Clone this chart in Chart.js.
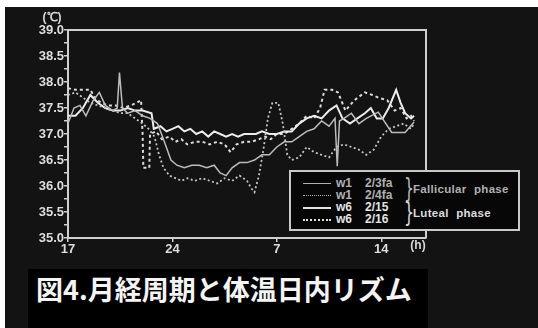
<!DOCTYPE html>
<html lang="ja">
<head>
<meta charset="utf-8">
<title>月経周期と体温日内リズム</title>
<script src="https://cdn.jsdelivr.net/npm/chart.js@4.4.1/dist/chart.umd.min.js"></script>
<style>
  html, body { margin: 0; padding: 0; width: 538px; height: 328px; overflow: hidden; background: #ffffff; }
  #stage { position: absolute; left: 5px; top: 7px; right: 0; bottom: 0; background: #131313; }
  #chart { position: absolute; left: 0; top: 0; }
  #legendBox {
    position: absolute; left: 289px; top: 170px; width: 227px; height: 57px;
    border: 2px solid #c9c9c9; background: #070707; z-index: 2;
    font-family: "Liberation Sans", Arial, sans-serif; font-weight: bold; color: #bdbdbd;
  }
  .row { position: absolute; left: 0; width: 120px; height: 12px; font-size: 12px; line-height: 12px; white-space: nowrap; }
  .sample { position: absolute; left: 12px; width: 28px; top: 6px; height: 0; }
  .lab1 { position: absolute; left: 45px; top: 0; }
  .lab2 { position: absolute; left: 74px; top: 0; }
  .brace { position: absolute; left: 113px; font-family: "DejaVu Sans", sans-serif; font-weight: normal; font-size: 21px; line-height: 21px; transform: scale(0.75, 1.25); transform-origin: left center; color: #b8b8b8; }
  .phase { position: absolute; left: 122px; font-size: 11.5px; line-height: 12px; white-space: nowrap; letter-spacing: 0.3px; word-spacing: 4px; }
  #titleBox {
    position: absolute; left: 28px; top: 269px; width: 400px; height: 59px; background: #000000; z-index: 2;
  }
  #titleText {
    position: absolute; left: 8px; top: 5px; margin: 0;
    font-family: "Noto Sans CJK JP", sans-serif; font-weight: bold; font-size: 27px; line-height: 30px;
    color: #f4f4f4; white-space: nowrap;
  }
</style>
</head>
<body>
<div id="stage"></div>
<canvas id="chart" width="538" height="328"></canvas>

<div id="legendBox">
  <div class="row" style="top:5px;color:#b0b0b0"><div class="sample" style="border-top:1.5px solid #b0b0b0"></div><span class="lab1">w1</span><span class="lab2">2/3fa</span></div>
  <div class="row" style="top:17px;color:#b0b0b0"><div class="sample" style="border-top:1.5px dotted #b0b0b0"></div><span class="lab1">w1</span><span class="lab2">2/4fa</span></div>
  <div class="row" style="top:29px;color:#e2e2e2"><div class="sample" style="border-top:2px solid #e2e2e2"></div><span class="lab1">w6</span><span class="lab2">2/15</span></div>
  <div class="row" style="top:41px;color:#e2e2e2"><div class="sample" style="border-top:2px dotted #e2e2e2"></div><span class="lab1">w6</span><span class="lab2">2/16</span></div>
  <div class="brace" style="top:6px">}</div>
  <div class="brace" style="top:30px;color:#d8d8d8">}</div>
  <div class="phase" style="top:11px;color:#b0b0b0">Fallicular phase</div>
  <div class="phase" style="top:35px;color:#dcdcdc">Luteal phase</div>
</div>

<div id="titleBox"><p id="titleText">図4.月経周期と体温日内リズム</p></div>

<script>
// Hours elapsed since 17:00; one array of hours and one of temperatures per record.
const hoursW1a = [0, 0.4, 0.8, 1.2, 1.7, 2.1, 2.5, 3.0, 3.3, 3.45, 3.65, 4.0, 4.5, 5.0, 5.5, 6.0, 6.4, 6.9, 7.3, 7.8,
  8.3, 8.8, 9.3, 9.8, 10.2, 10.6, 11.0, 11.5, 12.0, 12.5, 13.0, 13.5, 14.0, 14.5, 15.0, 15.5, 16.0, 16.5, 17.0, 17.5,
  17.9, 18.05, 18.2, 18.5, 19.0, 19.5, 20.0, 20.8, 21.7, 22.6, 23.2];
const tempW1a = [37.2, 37.5, 37.55, 37.35, 37.65, 37.8, 37.55, 37.45, 37.5, 38.18, 37.5, 37.4, 37.45, 37.35, 37.3, 37.2, 36.9, 36.5, 36.4, 36.35,
  36.4, 36.4, 36.35, 36.4, 36.25, 36.2, 36.35, 36.45, 36.45, 36.5, 36.6, 36.6, 36.75, 36.85, 36.85, 36.95, 37.05, 37.1, 37.25, 37.15,
  37.3, 36.38, 37.25, 37.3, 37.4, 37.2, 37.3, 37.42, 37.03, 37.03, 37.23];

const hoursW1b = [0, 0.5, 1.0, 1.5, 2.0, 2.5, 3.0, 3.5, 4.0, 4.5, 5.0, 5.4, 5.8, 6.1, 6.4, 6.8, 7.2, 7.6, 8.0, 8.5,
  9.0, 9.5, 10.0, 10.5, 11.0, 11.5, 12.0, 12.3, 12.5, 12.8, 13.1, 13.4, 13.7, 14.1, 14.4, 14.7, 15.0, 15.5, 16.0, 16.5,
  17.0, 17.5, 18.0, 18.5, 19.0, 19.5, 20.0, 20.5, 21.0, 21.5, 22.0, 22.5, 23.0, 23.2];
const tempW1b = [37.75, 37.8, 37.7, 37.6, 37.55, 37.5, 37.45, 37.4, 37.4, 37.3, 37.2, 37.1, 36.95, 36.6, 36.35, 36.2, 36.15, 36.1, 36.15, 36.1,
  36.15, 36.1, 36.05, 36.15, 36.1, 36.2, 36.1, 35.95, 35.88, 36.2, 36.7, 37.3, 37.6, 37.6, 37.2, 36.6, 36.5, 36.55, 36.75, 36.65,
  36.6, 36.55, 36.75, 36.8, 36.75, 36.7, 36.6, 36.7, 36.95, 37.1, 37.15, 37.2, 37.1, 37.2];

const hoursW6a = [0, 0.5, 1.0, 1.5, 2.0, 2.5, 3.0, 3.5, 4.0, 4.5, 5.0, 5.6, 5.75, 6.2, 6.6, 7.0, 7.4, 7.8, 8.2, 8.6,
  9.0, 9.4, 9.8, 10.2, 10.6, 11.0, 11.4, 11.8, 12.2, 12.6, 13.0, 13.5, 14.0, 14.5, 15.0, 15.5, 16.0, 16.5, 17.0, 17.5,
  18.0, 18.4, 18.9, 19.4, 19.9, 20.3, 20.7, 21.1, 21.5, 22.0, 22.3, 22.6, 23.0, 23.2];
const tempW6a = [37.35, 37.35, 37.5, 37.75, 37.6, 37.5, 37.45, 37.45, 37.5, 37.45, 37.45, 37.4, 37.1, 37.15, 37.05, 37.1, 37.15, 37.05, 37.1, 37.0,
  37.05, 36.95, 37.05, 37.0, 36.95, 37.0, 36.95, 37.0, 37.0, 37.0, 37.05, 37.0, 37.0, 37.05, 37.05, 37.2, 37.3, 37.35, 37.3, 37.45,
  37.55, 37.3, 37.2, 37.3, 37.4, 37.5, 37.3, 37.3, 37.5, 37.85, 37.6, 37.4, 37.3, 37.35];

const hoursW6b = [0, 0.5, 1.0, 1.5, 1.8, 2.2, 2.7, 3.2, 3.7, 4.2, 4.6, 4.9, 5.0, 5.05, 5.45, 5.5, 5.9, 6.3, 6.8, 7.2,
  7.6, 8.0, 8.5, 9.0, 9.5, 10.0, 10.5, 10.9, 11.3, 11.8, 12.3, 12.8, 13.2, 13.6, 14.0, 14.5, 15.0, 15.5, 16.0, 16.5,
  16.9, 17.2, 17.7, 18.1, 18.6, 19.2, 19.9, 20.4, 20.8, 21.4, 21.9, 22.3, 22.7, 23.0, 23.2];
const tempW6b = [37.88, 37.85, 37.85, 37.85, 37.7, 37.6, 37.55, 37.55, 37.5, 37.55, 37.6, 37.65, 37.0, 36.35, 36.35, 37.0, 37.05, 36.9, 36.95, 36.85,
  36.9, 36.8, 36.85, 36.85, 36.8, 36.85, 36.8, 36.65, 36.8, 36.85, 36.85, 36.9, 36.95, 36.9, 37.0, 37.0, 37.1, 37.2, 37.35, 37.3,
  37.5, 37.85, 37.85, 37.8, 37.45, 37.65, 37.8, 37.75, 37.7, 37.65, 37.45, 37.5, 37.3, 37.35, 37.25];

// Axis ticks: hours since 17:00 that carry a clock label, and the temperature range.
const hourTicks = [0, 7, 14, 21];
const startClock = 17;
const tempMin = 35.0, tempMax = 39.0, tempStep = 0.25;

const toPoints = (hs, ts) => hs.map((h, i) => ({ x: h, y: ts[i] }));

const axisColor = '#cfcfcf';
const labelFont = { family: '"Liberation Sans", Arial, sans-serif', weight: 'bold', size: 13 };

// Closes the plot frame (top and right edges) and writes the unit captions.
const framePlugin = {
  id: 'frame',
  beforeDatasetsDraw(chart) {
    const { ctx, chartArea: a } = chart;
    ctx.save();
    ctx.strokeStyle = axisColor;
    ctx.lineWidth = 2;
    ctx.beginPath();
    ctx.moveTo(a.left, a.top);
    ctx.lineTo(a.right, a.top);
    ctx.lineTo(a.right, a.bottom);
    ctx.stroke();
    ctx.restore();
  },
  afterDraw(chart) {
    const { ctx, chartArea: a } = chart;
    ctx.save();
    ctx.fillStyle = '#d8d8d8';
    ctx.font = 'bold 12px "Liberation Sans", Arial, sans-serif';
    ctx.textAlign = 'center';
    ctx.textBaseline = 'middle';
    ctx.fillText('(℃)', 52, 18);
    ctx.fillText('(h)', a.right - 8, 246);
    ctx.restore();
  }
};

new Chart(document.getElementById('chart'), {
  type: 'line',
  data: {
    datasets: [
      { label: 'w1 2/3fa', data: toPoints(hoursW1a, tempW1a), borderColor: '#bcbcbc', borderWidth: 1.5 },
      { label: 'w1 2/4fa', data: toPoints(hoursW1b, tempW1b), borderColor: '#c4c4c4', borderWidth: 1.8, borderDash: [2, 2.5] },
      { label: 'w6 2/15', data: toPoints(hoursW6a, tempW6a), borderColor: '#ececec', borderWidth: 2 },
      { label: 'w6 2/16', data: toPoints(hoursW6b, tempW6b), borderColor: '#dadada', borderWidth: 2, borderDash: [3, 3] }
    ]
  },
  options: {
    responsive: false,
    animation: false,
    devicePixelRatio: 1,
    layout: { padding: { top: 30, right: 112, left: 0, bottom: 0 } },
    elements: { point: { radius: 0 }, line: { tension: 0, fill: false } },
    plugins: { legend: { display: false }, tooltip: { enabled: false } },
    scales: {
      x: {
        type: 'linear', min: 0, max: 24,
        afterBuildTicks: (s) => { s.ticks = hourTicks.map(v => ({ value: v })); },
        afterFit: (s) => { s.height = 90; },
        ticks: {
          color: '#dddddd', font: labelFont, padding: 0, maxRotation: 0, autoSkip: false,
          callback: (v) => String(((startClock + v) % 24) || 24)
        },
        grid: { drawOnChartArea: false, tickLength: 4, color: axisColor, lineWidth: 1.5 },
        border: { color: axisColor, width: 2 }
      },
      y: {
        min: tempMin, max: tempMax,
        afterFit: (s) => { s.width = 68; },
        ticks: {
          stepSize: tempStep, color: '#dddddd', font: labelFont, padding: 0, autoSkip: false,
          callback: (v) => (Math.abs(v * 2 - Math.round(v * 2)) < 1e-6 ? v.toFixed(1) : '')
        },
        grid: { drawOnChartArea: false, tickLength: 4, color: axisColor, lineWidth: 1.5 },
        border: { color: axisColor, width: 2 }
      }
    }
  },
  plugins: [framePlugin]
});
</script>
</body>
</html>
